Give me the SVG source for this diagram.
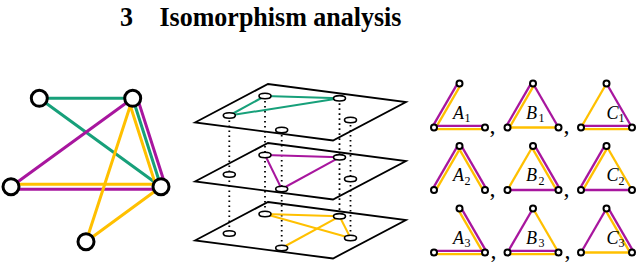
<svg xmlns="http://www.w3.org/2000/svg" xmlns:xlink="http://www.w3.org/1999/xlink" width="640" height="264" viewBox="0 0 640 264">
<style>
.g{stroke:#17a07a;fill:none}
.p{stroke:#a8169e;fill:none}
.y{stroke:#ffc000;fill:none}
.big line{stroke-width:3;stroke-linecap:round}
.bn{fill:#fff;stroke:#000;stroke-width:3}
.plane{fill:#fff;stroke:#000;stroke-width:1.8;stroke-linejoin:miter}
.dot{stroke:#000;stroke-width:1.8;stroke-dasharray:1.6 3.4;fill:none}
.pe line{stroke-width:2}
.el{fill:#fff;stroke:#000;stroke-width:1.6}
.tri line{stroke-width:2.3}
.tn{fill:#fff;stroke:#000;stroke-width:2}
.lab{font-family:"Liberation Serif",serif;font-style:italic;font-size:18px;fill:#000}
.sub{font-size:12px;font-style:normal}
.cm{font-family:"Liberation Serif",serif;font-size:24px;fill:#000}
</style>
<defs>
<circle id="tnode" r="3" class="tn"/>
</defs>
<rect width="640" height="264" fill="#fff"/>
<text transform="translate(0,25.5) scale(1,1.08)" font-family="'Liberation Serif',serif" font-weight="bold" font-size="26" fill="#000"><tspan x="120">3</tspan><tspan x="159.5">Isomorphism analysis</tspan></text>

<!-- left graph -->
<g id="connectors" class="big">
<line class="g" x1="39.3" y1="98.3" x2="132.7" y2="98.3"/>
<line class="g" x1="39.3" y1="98.3" x2="161" y2="186.7"/>
<line class="p" x1="132.7" y1="98.3" x2="11" y2="186.7"/>
<line class="y" x1="128.4" y1="99.7" x2="156.7" y2="188.1"/>
<line class="g" x1="132.7" y1="98.3" x2="161" y2="186.7"/>
<line class="p" x1="137" y1="96.9" x2="165.3" y2="185.3"/>
<line class="y" x1="11" y1="184.2" x2="161" y2="184.2"/>
<line class="p" x1="11" y1="189.2" x2="161" y2="189.2"/>
<line class="y" x1="132.7" y1="98.3" x2="86" y2="241.7"/>
<line class="y" x1="161" y1="186.7" x2="86" y2="241.7"/>
</g>
<g id="n1"><circle class="bn" cx="39.3" cy="98.3" r="8"/></g>
<g id="n2"><circle class="bn" cx="132.7" cy="98.3" r="8"/></g>
<g id="n3"><circle class="bn" cx="11" cy="186.7" r="8"/></g>
<g id="n4"><circle class="bn" cx="161" cy="186.7" r="8"/></g>
<g id="n5"><circle class="bn" cx="86" cy="241.7" r="8"/></g>

<!-- layered planes -->
<g id="planes">
<polygon class="plane" points="195,122.5 268,84 406,102 333,140.5"/>
<polygon class="plane" points="195,181.5 268,143 406,161 333,199.5"/>
<polygon class="plane" points="195,240.5 268,202 406,220 333,258.5"/>
</g>
<g id="dotted">
<line class="dot" x1="229.3" y1="115.5" x2="229.3" y2="233.5"/>
<line class="dot" x1="265" y1="96" x2="265" y2="214"/>
<line class="dot" x1="281.7" y1="130" x2="281.7" y2="248"/>
<line class="dot" x1="339.5" y1="98.3" x2="339.5" y2="216.3"/>
<line class="dot" x1="350.5" y1="120" x2="350.5" y2="238"/>
</g>
<g id="plane-edges" class="pe">
<line class="g" x1="265" y1="96" x2="339.5" y2="98.3"/>
<line class="g" x1="265" y1="96" x2="229.3" y2="115.5"/>
<line class="g" x1="229.3" y1="115.5" x2="339.5" y2="98.3"/>
<line class="p" x1="265" y1="155" x2="339.5" y2="157.3"/>
<line class="p" x1="265" y1="155" x2="281.7" y2="189"/>
<line class="p" x1="281.7" y1="189" x2="339.5" y2="157.3"/>
<line class="y" x1="265" y1="214" x2="339.5" y2="216.3"/>
<line class="y" x1="265" y1="214" x2="350.5" y2="238"/>
<line class="y" x1="339.5" y1="216.3" x2="350.5" y2="238"/>
<line class="y" x1="281.7" y1="248" x2="339.5" y2="216.3"/>
</g>
<g id="plane-nodes">
<g id="top-a"><ellipse class="el" cx="265" cy="96" rx="6" ry="2.7"/></g>
<g id="top-b"><ellipse class="el" cx="339.5" cy="98.3" rx="6" ry="2.7"/></g>
<g id="top-c"><ellipse class="el" cx="229.3" cy="115.5" rx="6" ry="2.7"/></g>
<g id="top-d"><ellipse class="el" cx="281.7" cy="130" rx="6" ry="2.7"/></g>
<g id="top-e"><ellipse class="el" cx="350.5" cy="120" rx="6" ry="2.7"/></g>
<g id="mid-a"><ellipse class="el" cx="265" cy="155" rx="6" ry="2.7"/></g>
<g id="mid-b"><ellipse class="el" cx="339.5" cy="157.3" rx="6" ry="2.7"/></g>
<g id="mid-c"><ellipse class="el" cx="229.3" cy="174.5" rx="6" ry="2.7"/></g>
<g id="mid-d"><ellipse class="el" cx="281.7" cy="189" rx="6" ry="2.7"/></g>
<g id="mid-e"><ellipse class="el" cx="350.5" cy="179" rx="6" ry="2.7"/></g>
<g id="bot-a"><ellipse class="el" cx="265" cy="214" rx="6" ry="2.7"/></g>
<g id="bot-b"><ellipse class="el" cx="339.5" cy="216.3" rx="6" ry="2.7"/></g>
<g id="bot-c"><ellipse class="el" cx="229.3" cy="233.5" rx="6" ry="2.7"/></g>
<g id="bot-d"><ellipse class="el" cx="281.7" cy="248" rx="6" ry="2.7"/></g>
<g id="bot-e"><ellipse class="el" cx="350.5" cy="238" rx="6" ry="2.7"/></g>
</g>

<!-- triangles -->
<g id="A1" class="tri" transform="translate(459.5,83.5)">
<line class="p" x1="-26.97" y1="43.15" x2="-1.47" y2="-0.85"/><line class="y" x1="-24.03" y1="44.85" x2="1.47" y2="0.85"/>
<line class="p" x1="-25.5" y1="42.3" x2="25.5" y2="42.3"/><line class="y" x1="-25.5" y1="45.7" x2="25.5" y2="45.7"/>
<use xlink:href="#tnode"/><use xlink:href="#tnode" x="-25.5" y="44"/><use xlink:href="#tnode" x="25.5" y="44"/>
<text class="lab" x="-6.5" y="35">A<tspan class="sub" x="5" y="38.5">1</tspan></text>
</g>
<g id="B1" class="tri" transform="translate(533,83.5)">
<line class="p" x1="-26.97" y1="43.15" x2="-1.47" y2="-0.85"/><line class="y" x1="-24.03" y1="44.85" x2="1.47" y2="0.85"/>
<line class="p" x1="0" y1="0" x2="25.5" y2="44"/>
<line class="y" x1="-25.5" y1="44" x2="25.5" y2="44"/>
<use xlink:href="#tnode"/><use xlink:href="#tnode" x="-25.5" y="44"/><use xlink:href="#tnode" x="25.5" y="44"/>
<text class="lab" x="-7" y="35">B<tspan class="sub" x="5.5" y="38.5">1</tspan></text>
</g>
<g id="C1" class="tri" transform="translate(606.5,83.5)">
<line class="y" x1="-25.5" y1="44" x2="0" y2="0"/>
<line class="p" x1="0" y1="0" x2="25.5" y2="44"/>
<line class="p" x1="-25.5" y1="42.3" x2="25.5" y2="42.3"/><line class="y" x1="-25.5" y1="45.7" x2="25.5" y2="45.7"/>
<use xlink:href="#tnode"/><use xlink:href="#tnode" x="-25.5" y="44"/><use xlink:href="#tnode" x="25.5" y="44"/>
<text class="lab" x="0" y="35">C<tspan class="sub" x="12" y="38.5">1</tspan></text>
</g>
<g id="A2" class="tri" transform="translate(459.5,146)">
<line class="p" x1="-26.97" y1="43.15" x2="-1.47" y2="-0.85"/><line class="y" x1="-24.03" y1="44.85" x2="1.47" y2="0.85"/>
<line class="p" x1="1.47" y1="-0.85" x2="26.97" y2="43.15"/><line class="y" x1="-1.47" y1="0.85" x2="24.03" y2="44.85"/>
<use xlink:href="#tnode"/><use xlink:href="#tnode" x="-25.5" y="44"/><use xlink:href="#tnode" x="25.5" y="44"/>
<text class="lab" x="-6.5" y="35">A<tspan class="sub" x="5" y="38.5">2</tspan></text>
</g>
<g id="B2" class="tri" transform="translate(533,146)">
<line class="y" x1="-25.5" y1="44" x2="0" y2="0"/>
<line class="p" x1="1.47" y1="-0.85" x2="26.97" y2="43.15"/><line class="y" x1="-1.47" y1="0.85" x2="24.03" y2="44.85"/>
<line class="p" x1="-25.5" y1="44" x2="25.5" y2="44"/>
<use xlink:href="#tnode"/><use xlink:href="#tnode" x="-25.5" y="44"/><use xlink:href="#tnode" x="25.5" y="44"/>
<text class="lab" x="-7" y="35">B<tspan class="sub" x="5.5" y="38.5">2</tspan></text>
</g>
<g id="C2" class="tri" transform="translate(606.5,146)">
<line class="p" x1="-26.97" y1="43.15" x2="-1.47" y2="-0.85"/><line class="y" x1="-24.03" y1="44.85" x2="1.47" y2="0.85"/>
<line class="y" x1="0" y1="0" x2="25.5" y2="44"/>
<line class="p" x1="-25.5" y1="44" x2="25.5" y2="44"/>
<use xlink:href="#tnode"/><use xlink:href="#tnode" x="-25.5" y="44"/><use xlink:href="#tnode" x="25.5" y="44"/>
<text class="lab" x="0" y="35">C<tspan class="sub" x="12" y="38.5">2</tspan></text>
</g>
<g id="A3" class="tri" transform="translate(459.5,208.5)">
<line class="p" x1="1.47" y1="-0.85" x2="26.97" y2="43.15"/><line class="y" x1="-1.47" y1="0.85" x2="24.03" y2="44.85"/>
<line class="p" x1="-25.5" y1="42.3" x2="25.5" y2="42.3"/><line class="y" x1="-25.5" y1="45.7" x2="25.5" y2="45.7"/>
<use xlink:href="#tnode"/><use xlink:href="#tnode" x="-25.5" y="44"/><use xlink:href="#tnode" x="25.5" y="44"/>
<text class="lab" x="-6.5" y="35">A<tspan class="sub" x="5" y="38.5">3</tspan></text>
</g>
<g id="B3" class="tri" transform="translate(533,208.5)">
<line class="p" x1="-25.5" y1="44" x2="0" y2="0"/>
<line class="y" x1="0" y1="0" x2="25.5" y2="44"/>
<line class="p" x1="-25.5" y1="42.3" x2="25.5" y2="42.3"/><line class="y" x1="-25.5" y1="45.7" x2="25.5" y2="45.7"/>
<use xlink:href="#tnode"/><use xlink:href="#tnode" x="-25.5" y="44"/><use xlink:href="#tnode" x="25.5" y="44"/>
<text class="lab" x="-7" y="35">B<tspan class="sub" x="5.5" y="38.5">3</tspan></text>
</g>
<g id="C3" class="tri" transform="translate(606.5,208.5)">
<line class="p" x1="-25.5" y1="44" x2="0" y2="0"/>
<line class="p" x1="1.47" y1="-0.85" x2="26.97" y2="43.15"/><line class="y" x1="-1.47" y1="0.85" x2="24.03" y2="44.85"/>
<line class="y" x1="-25.5" y1="44" x2="25.5" y2="44"/>
<use xlink:href="#tnode"/><use xlink:href="#tnode" x="-25.5" y="44"/><use xlink:href="#tnode" x="25.5" y="44"/>
<text class="lab" x="0" y="35">C<tspan class="sub" x="12" y="38.5">3</tspan></text>
</g>
<g id="commas" class="cm">
<text x="489.5" y="133">,</text><text x="563.5" y="133">,</text>
<text x="489.5" y="195.5">,</text><text x="563.5" y="195.5">,</text>
<text x="490.5" y="258">,</text><text x="564.5" y="258">,</text>
</g>
</svg>
